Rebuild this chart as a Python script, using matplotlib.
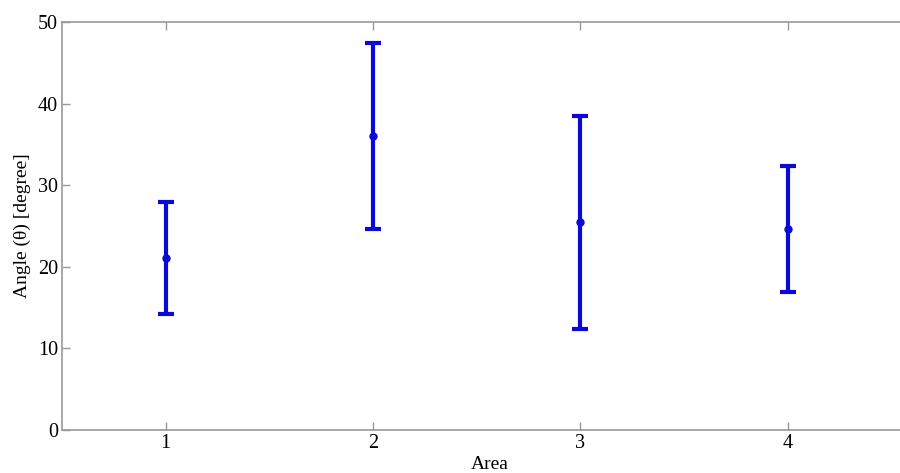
import matplotlib
matplotlib.use('Agg')
import matplotlib.pyplot as plt

areas = [1, 2, 3, 4]
mean_angle = [21.1, 36.1, 25.5, 24.7]
upper = [28.0, 47.5, 38.5, 32.4]
lower = [14.2, 24.6, 12.4, 16.9]

err_low = [m - l for m, l in zip(mean_angle, lower)]
err_high = [u - m for m, u in zip(mean_angle, upper)]

plt.rcParams['font.family'] = ['Liberation Serif', 'DejaVu Serif']

fig = plt.figure(figsize=(9, 4.73), dpi=100)
# right edge of the box falls just outside the image, as in the reference
ax = fig.add_axes([0.069, 0.091, 0.95, 0.862])

ax.errorbar(areas, mean_angle, yerr=[err_low, err_high], fmt='o', color='#0a0ad8',
            ecolor='#0a0ad8', elinewidth=3, capsize=5.5, capthick=3, markersize=5)

ax.set_xlim(0.5, 4.624)
ax.set_ylim(0, 50)
ax.set_xticks(areas)
ax.set_yticks([0, 10, 20, 30, 40, 50])

spine_col = '#999999'
for s in ax.spines.values():
    s.set_color(spine_col)
    s.set_linewidth(1.2)
ax.tick_params(direction='in', color=spine_col, length=6, width=1, labelsize=14.5,
               top=True, right=True, pad=3)

ax.set_xlabel('Area', fontsize=14, labelpad=2)
ax.set_ylabel('Angle (θ) [degree]', fontsize=14)
ax.yaxis.set_label_coords(-0.036, 0.5)

fig.savefig('out.png', dpi=100)
